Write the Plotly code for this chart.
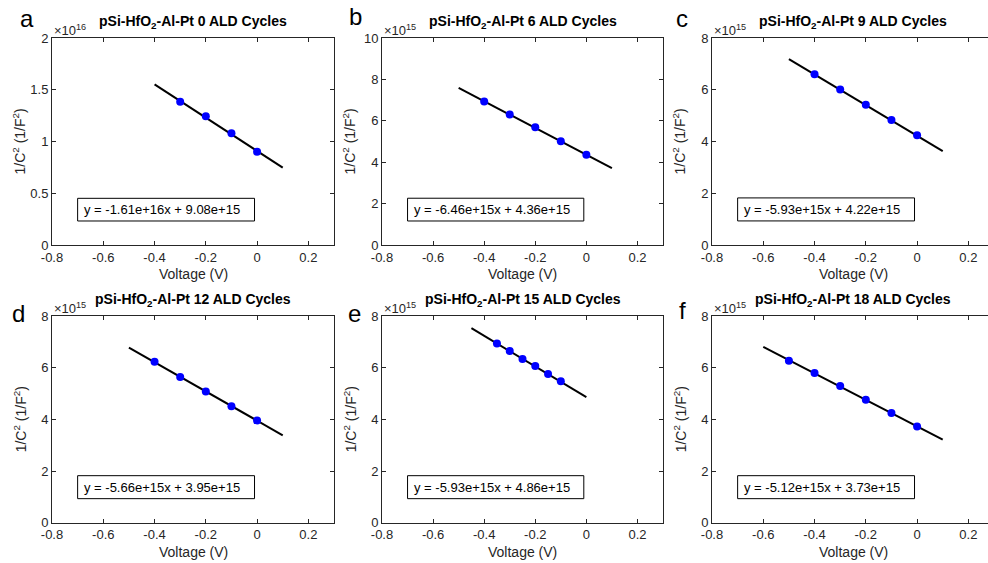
import plotly.graph_objects as go

# ---------------- data ----------------
panel_letters = ["a", "b", "c", "d", "e", "f"]
cycles = [0, 6, 9, 12, 15, 18]

x_points = [
    [-0.3, -0.2, -0.1, 0.0],
    [-0.4, -0.3, -0.2, -0.1, 0.0],
    [-0.4, -0.3, -0.2, -0.1, 0.0],
    [-0.4, -0.3, -0.2, -0.1, 0.0],
    [-0.35, -0.3, -0.25, -0.2, -0.15, -0.1],
    [-0.5, -0.4, -0.3, -0.2, -0.1, 0.0],
]
y_points = [
    [1.385e16, 1.243e16, 1.079e16, 0.901e16],
    [6.93e15, 6.31e15, 5.69e15, 5.01e15, 4.36e15],
    [6.60e15, 6.01e15, 5.42e15, 4.83e15, 4.24e15],
    [6.23e15, 5.64e15, 5.08e15, 4.51e15, 3.96e15],
    [6.94e15, 6.65e15, 6.34e15, 6.06e15, 5.76e15, 5.47e15],
    [6.27e15, 5.79e15, 5.29e15, 4.76e15, 4.25e15, 3.72e15],
]
fit_slope = [-1.61e16, -6.46e15, -5.93e15, -5.66e15, -5.93e15, -5.12e15]
fit_intercept = [9.08e15, 4.36e15, 4.22e15, 3.95e15, 4.86e15, 3.73e15]
fit_labels = [
    "y = -1.61e+16x + 9.08e+15",
    "y = -6.46e+15x + 4.36e+15",
    "y = -5.93e+15x + 4.22e+15",
    "y = -5.66e+15x + 3.95e+15",
    "y = -5.93e+15x + 4.86e+15",
    "y = -5.12e+15x + 3.73e+15",
]
line_x_start = [-0.4, -0.5, -0.5, -0.5, -0.45, -0.6]
line_x_end = [0.1, 0.1, 0.1, 0.1, 0.0, 0.1]

y_max = [2e16, 1e16, 8e15, 8e15, 8e15, 8e15]
y_exponent = [16, 15, 15, 15, 15, 15]
y_tickvals = [
    [0, 0.5e16, 1e16, 1.5e16, 2e16],
    [0, 2e15, 4e15, 6e15, 8e15, 1e16],
    [0, 2e15, 4e15, 6e15, 8e15],
    [0, 2e15, 4e15, 6e15, 8e15],
    [0, 2e15, 4e15, 6e15, 8e15],
    [0, 2e15, 4e15, 6e15, 8e15],
]
y_ticktext = [
    ["0", "0.5", "1", "1.5", "2"],
    ["0", "2", "4", "6", "8", "10"],
    ["0", "2", "4", "6", "8"],
    ["0", "2", "4", "6", "8"],
    ["0", "2", "4", "6", "8"],
    ["0", "2", "4", "6", "8"],
]
x_tickvals = [-0.8, -0.6, -0.4, -0.2, 0.0, 0.2]
x_ticktext = ["-0.8", "-0.6", "-0.4", "-0.2", "0", "0.2"]
box_x_range = [-0.7, -0.01]

# ---------------- layout geometry (pixels) ----------------
W, H = 988, 563
FONT = "Liberation Sans, Arial, Helvetica, sans-serif"
AX = "#262626"
col_left = [52, 382, 712]
col_right = [334, 663, 994]
row_top = [38, 316]
row_bot = [245, 522.7]
box_frac = [(0.451 / 2.0, 0.232 / 2.0), (0.226, 0.116)] + [(0.2275, 0.1163)] * 4


def px(xp):
    return xp / W


def py(yp):
    return 1 - yp / H


fig = go.Figure()
annotations = []
layout = dict(
    width=W, height=H, margin=dict(l=0, r=0, t=0, b=0, autoexpand=False),
    paper_bgcolor="white", plot_bgcolor="white", showlegend=False,
    font=dict(family=FONT, color=AX, size=13),
)

for i in range(6):
    r, c = divmod(i, 3)
    n = i + 1
    sfx = "" if n == 1 else str(n)
    xa, ya = "x" + sfx, "y" + sfx
    xl, xr = col_left[c], col_right[c]
    yt, yb = row_top[r], row_bot[r]
    x0, x1 = -0.8, 0.3
    xr_px = xr
    if xr > W:
        x1 = -0.8 + (W - xl) / (xr - xl) * 1.1
        xr_px = W
    common = dict(showgrid=False, zeroline=False, showline=True, linecolor=AX,
                  linewidth=1, ticks="inside", ticklen=4, tickcolor=AX,
                  automargin=False,
                  tickfont=dict(family=FONT, size=13, color=AX))
    layout["xaxis" + sfx] = dict(
        domain=[px(xl), px(xr_px)], range=[x0, x1], anchor=ya,
        tickvals=x_tickvals, ticktext=x_ticktext, mirror="ticks", **common)
    layout["yaxis" + sfx] = dict(
        domain=[py(yb), py(yt)], range=[0, y_max[i] * 1.000001], anchor=xa,
        tickvals=y_tickvals[i], ticktext=y_ticktext[i],
        mirror=("ticks" if xr <= W else False), **common)

    lx = [line_x_start[i], line_x_end[i]]
    ly = [fit_slope[i] * v + fit_intercept[i] for v in lx]
    fig.add_trace(go.Scatter(x=lx, y=ly, mode="lines", xaxis=xa, yaxis=ya,
                             line=dict(color="black", width=2), hoverinfo="skip"))
    fig.add_trace(go.Scatter(x=x_points[i], y=y_points[i], mode="markers",
                             xaxis=xa, yaxis=ya,
                             marker=dict(color="#0000ff", size=8, line=dict(width=0))))

    ytop_f, ybot_f = box_frac[i]
    fig.add_shape(type="rect", xref=xa, yref=ya,
                  x0=box_x_range[0], x1=box_x_range[1],
                  y0=ybot_f * y_max[i], y1=ytop_f * y_max[i],
                  line=dict(color="black", width=1), fillcolor="white")
    annotations.append(dict(
        xref=xa, yref=ya, x=box_x_range[0], y=(ytop_f + ybot_f) / 2 * y_max[i],
        text=fit_labels[i], showarrow=False, xanchor="left", yanchor="middle",
        xshift=4, font=dict(family=FONT, size=13, color="black")))

    cx = (xl + xr) / 2
    annotations.append(dict(
        xref="paper", yref="paper", x=px(cx), y=py(yt - 16),
        text=f"pSi-HfO<sub>2</sub>-Al-Pt {cycles[i]} ALD Cycles",
        showarrow=False, xanchor="center", yanchor="middle",
        font=dict(family=FONT, size=14, color="black", weight="bold")))
    annotations.append(dict(
        xref="paper", yref="paper", x=px(xl), y=py(yt - 8),
        text=f"\u00d710<sup>{y_exponent[i]}</sup>", showarrow=False,
        xanchor="left", yanchor="middle",
        font=dict(family=FONT, size=13, color=AX)))
    annotations.append(dict(
        xref="paper", yref="paper", x=px(xl - 32), y=py((yt + yb) / 2),
        text="1/C<sup>2</sup> (1/F<sup>2</sup>)", showarrow=False, textangle=-90,
        xanchor="center", yanchor="middle",
        font=dict(family=FONT, size=14, color=AX)))
    annotations.append(dict(
        xref="paper", yref="paper", x=px((xl + xr) / 2), y=py(yb + 29),
        text="Voltage (V)", showarrow=False, xanchor="center", yanchor="middle",
        font=dict(family=FONT, size=14, color=AX)))

letter_pos = [(27, 19), (355, 17), (682, 19), (18, 313), (354, 313), (682, 310)]
for L, (lx_, ly_) in zip(panel_letters, letter_pos):
    annotations.append(dict(
        xref="paper", yref="paper", x=px(lx_), y=py(ly_), text=L, showarrow=False,
        xanchor="center", yanchor="middle",
        font=dict(family=FONT, size=24, color="black")))

layout["annotations"] = annotations
fig.update_layout(**layout)
fig.write_html(
    "out.html",
    post_script="document.body.style.margin='0';document.body.style.overflow='hidden';",
)
